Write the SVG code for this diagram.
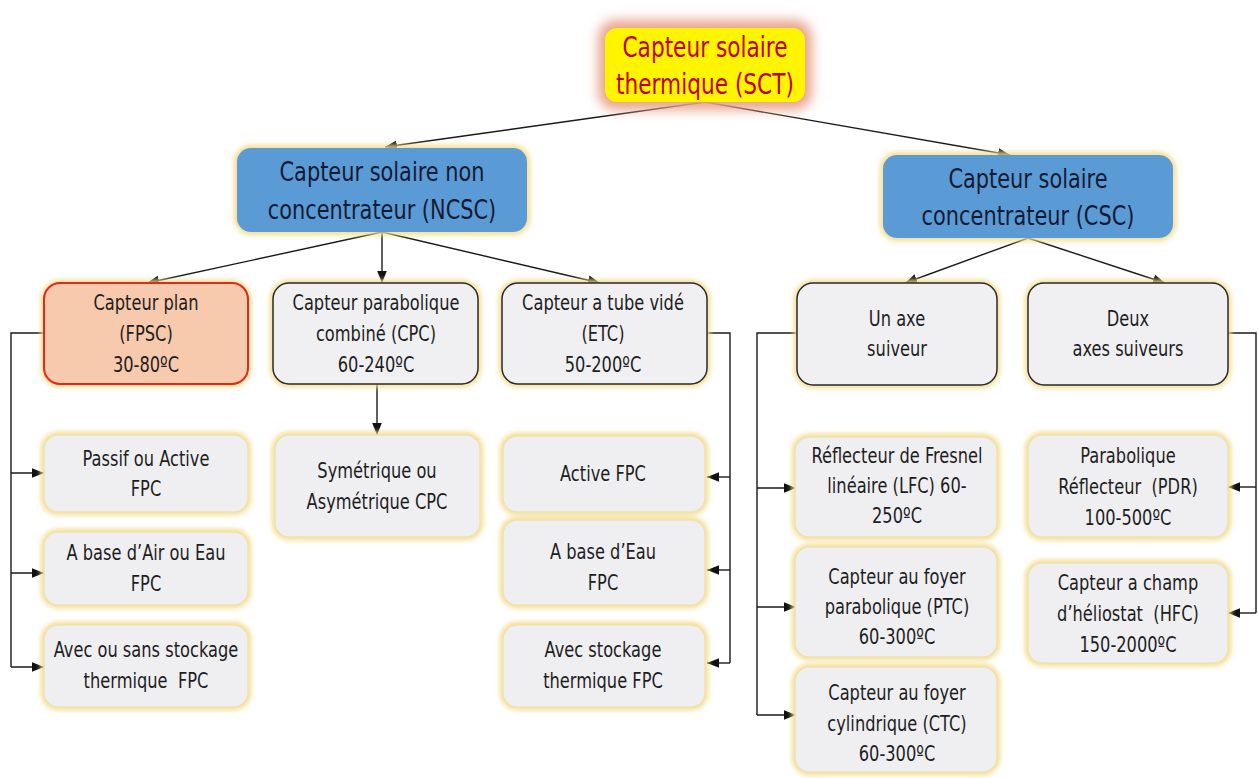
<svg xmlns="http://www.w3.org/2000/svg" width="1258" height="778" viewBox="0 0 1258 778">
<defs>
<filter id="glowY" x="-20%" y="-20%" width="140%" height="140%"><feGaussianBlur stdDeviation="2.5"/></filter>
<filter id="glowR" x="-30%" y="-40%" width="160%" height="180%"><feGaussianBlur stdDeviation="6"/></filter>
<marker id="ah" viewBox="0 0 10 10" refX="10" refY="5" markerWidth="12" markerHeight="12" markerUnits="userSpaceOnUse" orient="auto"><path d="M0,1 L10,5 L0,9 z" fill="#111"/></marker>
</defs>
<style>
text{font-family:"DejaVu Sans","Liberation Sans",sans-serif;font-stretch:condensed;text-anchor:middle;dominant-baseline:central;fill:#1e1e1e;white-space:pre;transform-box:fill-box;transform-origin:center;transform:scaleX(0.86)}
.g{fill:none;stroke:#f3dc8a;stroke-width:6;filter:url(#glowY)}
.blue{fill:#5b9bd5;stroke:none}
.blue-t{font-size:27px;fill:#141a33}
.sct-t{font-size:28px;fill:#c00000}
.l3{fill:#f0f0f2;stroke:#2a2a2a;stroke-width:1.5}
.l4{fill:#efeff2;stroke:#f0e2b0;stroke-width:1.5}
.t3{font-size:21px}
.c{fill:none;stroke:#1a1a1a;stroke-width:1.4}
</style>
<rect width="1258" height="778" fill="#ffffff"/>

<g id="connectors">
<line class="c" x1="705" y1="102" x2="385" y2="147" marker-end="url(#ah)"/>
<line class="c" x1="705" y1="102" x2="1010" y2="155" marker-end="url(#ah)"/>
<line class="c" x1="382" y1="232" x2="147" y2="283" marker-end="url(#ah)"/>
<line class="c" x1="382" y1="232" x2="382" y2="283" marker-end="url(#ah)"/>
<line class="c" x1="382" y1="232" x2="600" y2="283" marker-end="url(#ah)"/>
<line class="c" x1="1028" y1="238" x2="905" y2="283" marker-end="url(#ah)"/>
<line class="c" x1="1028" y1="238" x2="1165" y2="283" marker-end="url(#ah)"/>
<line class="c" x1="377" y1="384" x2="377" y2="435" marker-end="url(#ah)"/>
<polyline class="c" points="44,333 11,333 11,667"/>
<line class="c" x1="11" y1="473" x2="44" y2="473" marker-end="url(#ah)"/>
<line class="c" x1="11" y1="573" x2="44" y2="573" marker-end="url(#ah)"/>
<line class="c" x1="11" y1="667" x2="44" y2="667" marker-end="url(#ah)"/>
<polyline class="c" points="707,333 730,333 730,663"/>
<line class="c" x1="730" y1="477" x2="707" y2="477" marker-end="url(#ah)"/>
<line class="c" x1="730" y1="570" x2="707" y2="570" marker-end="url(#ah)"/>
<line class="c" x1="730" y1="663" x2="707" y2="663" marker-end="url(#ah)"/>
<polyline class="c" points="797,333 757,333 757,715"/>
<line class="c" x1="757" y1="488" x2="796" y2="488" marker-end="url(#ah)"/>
<line class="c" x1="757" y1="607" x2="796" y2="607" marker-end="url(#ah)"/>
<line class="c" x1="757" y1="715" x2="796" y2="715" marker-end="url(#ah)"/>
<polyline class="c" points="1228,333 1256,333 1256,613"/>
<line class="c" x1="1256" y1="487" x2="1228" y2="487" marker-end="url(#ah)"/>
<line class="c" x1="1256" y1="613" x2="1228" y2="613" marker-end="url(#ah)"/>
</g>

<g id="sct">
<rect x="598" y="20" width="214" height="90" rx="18" fill="#e9a48c" filter="url(#glowR)"/>
<rect x="605" y="28" width="200" height="74" rx="12" fill="#fff500"/>
<text class="sct-t" x="705" y="47">Capteur solaire</text>
<text class="sct-t" x="705" y="84">thermique (SCT)</text>
</g>

<g id="ncsc">
<rect class="g" x="237" y="148" width="290" height="84" rx="14"/>
<rect class="blue" x="237" y="148" width="290" height="84" rx="14"/>
<text class="blue-t" x="382" y="172">Capteur solaire non</text>
<text class="blue-t" x="382" y="210">concentrateur (NCSC)</text>
</g>

<g id="csc">
<rect class="g" x="883" y="155" width="290" height="83" rx="14"/>
<rect class="blue" x="883" y="155" width="290" height="83" rx="14"/>
<text class="blue-t" x="1028" y="179">Capteur solaire</text>
<text class="blue-t" x="1028" y="216">concentrateur (CSC)</text>
</g>

<g id="fpsc">
<rect class="g" x="44" y="283" width="204" height="101" rx="16"/>
<rect x="44" y="283" width="204" height="101" rx="16" fill="#f7c9ad" stroke="#e02a1a" stroke-width="2"/>
<text class="t3" x="146" y="303">Capteur plan</text>
<text class="t3" x="146" y="334">(FPSC)</text>
<text class="t3" x="146" y="365">30-80ºC</text>
</g>

<g id="cpc">
<rect class="g" x="273" y="283" width="205" height="101" rx="16"/>
<rect class="l3" x="273" y="283" width="205" height="101" rx="16"/>
<text class="t3" x="376" y="303">Capteur parabolique</text>
<text class="t3" x="376" y="334">combiné (CPC)</text>
<text class="t3" x="376" y="365">60-240ºC</text>
</g>

<g id="etc">
<rect class="g" x="502" y="283" width="205" height="101" rx="16"/>
<rect class="l3" x="502" y="283" width="205" height="101" rx="16"/>
<text class="t3" x="603" y="303">Capteur a tube vidé</text>
<text class="t3" x="603" y="334">(ETC)</text>
<text class="t3" x="603" y="365">50-200ºC</text>
</g>

<g id="unaxe">
<rect class="g" x="797" y="283" width="200" height="102" rx="16"/>
<rect class="l3" x="797" y="283" width="200" height="102" rx="16"/>
<text class="t3" x="897" y="319">Un axe</text>
<text class="t3" x="897" y="349">suiveur</text>
</g>

<g id="deux">
<rect class="g" x="1028" y="283" width="200" height="102" rx="16"/>
<rect class="l3" x="1028" y="283" width="200" height="102" rx="16"/>
<text class="t3" x="1128" y="319">Deux</text>
<text class="t3" x="1128" y="349">axes suiveurs</text>
</g>

<g id="passif">
<rect class="g" x="44" y="435" width="204" height="77" rx="14"/>
<rect class="l4" x="44" y="435" width="204" height="77" rx="14"/>
<text class="t3" x="146" y="459">Passif ou Active</text>
<text class="t3" x="146" y="489">FPC</text>
</g>

<g id="airEau">
<rect class="g" x="44" y="532" width="204" height="73" rx="14"/>
<rect class="l4" x="44" y="532" width="204" height="73" rx="14"/>
<text class="t3" x="146" y="553">A base d’Air ou Eau</text>
<text class="t3" x="146" y="584">FPC</text>
</g>

<g id="stockage">
<rect class="g" x="44" y="625" width="204" height="82" rx="14"/>
<rect class="l4" x="44" y="625" width="204" height="82" rx="14"/>
<text class="t3" x="146" y="650">Avec ou sans stockage</text>
<text class="t3" x="146" y="681">thermique  FPC</text>
</g>

<g id="sym">
<rect class="g" x="275" y="435" width="205" height="102" rx="14"/>
<rect class="l4" x="275" y="435" width="205" height="102" rx="14"/>
<text class="t3" x="377" y="471">Symétrique ou</text>
<text class="t3" x="377" y="502">Asymétrique CPC</text>
</g>

<g id="activeFpc">
<rect class="g" x="503" y="436" width="202" height="76" rx="14"/>
<rect class="l4" x="503" y="436" width="202" height="76" rx="14"/>
<text class="t3" x="603" y="474">Active FPC</text>
</g>

<g id="baseEau">
<rect class="g" x="503" y="520" width="202" height="85" rx="14"/>
<rect class="l4" x="503" y="520" width="202" height="85" rx="14"/>
<text class="t3" x="603" y="552">A base d’Eau</text>
<text class="t3" x="603" y="583">FPC</text>
</g>

<g id="avecStockage">
<rect class="g" x="503" y="625" width="202" height="82" rx="14"/>
<rect class="l4" x="503" y="625" width="202" height="82" rx="14"/>
<text class="t3" x="603" y="650">Avec stockage</text>
<text class="t3" x="603" y="681">thermique FPC</text>
</g>

<g id="lfc">
<rect class="g" x="795" y="437" width="202" height="100" rx="14"/>
<rect class="l4" x="795" y="437" width="202" height="100" rx="14"/>
<text class="t3" x="897" y="456">Réflecteur de Fresnel</text>
<text class="t3" x="897" y="486">linéaire (LFC) 60-</text>
<text class="t3" x="897" y="516">250ºC</text>
</g>

<g id="ptc">
<rect class="g" x="795" y="547" width="202" height="110" rx="14"/>
<rect class="l4" x="795" y="547" width="202" height="110" rx="14"/>
<text class="t3" x="897" y="577">Capteur au foyer</text>
<text class="t3" x="897" y="607">parabolique (PTC)</text>
<text class="t3" x="897" y="637">60-300ºC</text>
</g>

<g id="ctc">
<rect class="g" x="795" y="667" width="202" height="105" rx="14"/>
<rect class="l4" x="795" y="667" width="202" height="105" rx="14"/>
<text class="t3" x="897" y="693">Capteur au foyer</text>
<text class="t3" x="897" y="724">cylindrique (CTC)</text>
<text class="t3" x="897" y="754">60-300ºC</text>
</g>

<g id="pdr">
<rect class="g" x="1028" y="435" width="200" height="102" rx="14"/>
<rect class="l4" x="1028" y="435" width="200" height="102" rx="14"/>
<text class="t3" x="1128" y="456">Parabolique</text>
<text class="t3" x="1128" y="487">Réflecteur  (PDR)</text>
<text class="t3" x="1128" y="518">100-500ºC</text>
</g>

<g id="hfc">
<rect class="g" x="1028" y="563" width="200" height="100" rx="14"/>
<rect class="l4" x="1028" y="563" width="200" height="100" rx="14"/>
<text class="t3" x="1128" y="583">Capteur a champ</text>
<text class="t3" x="1128" y="614">d’héliostat  (HFC)</text>
<text class="t3" x="1128" y="645">150-2000ºC</text>
</g>
</svg>
